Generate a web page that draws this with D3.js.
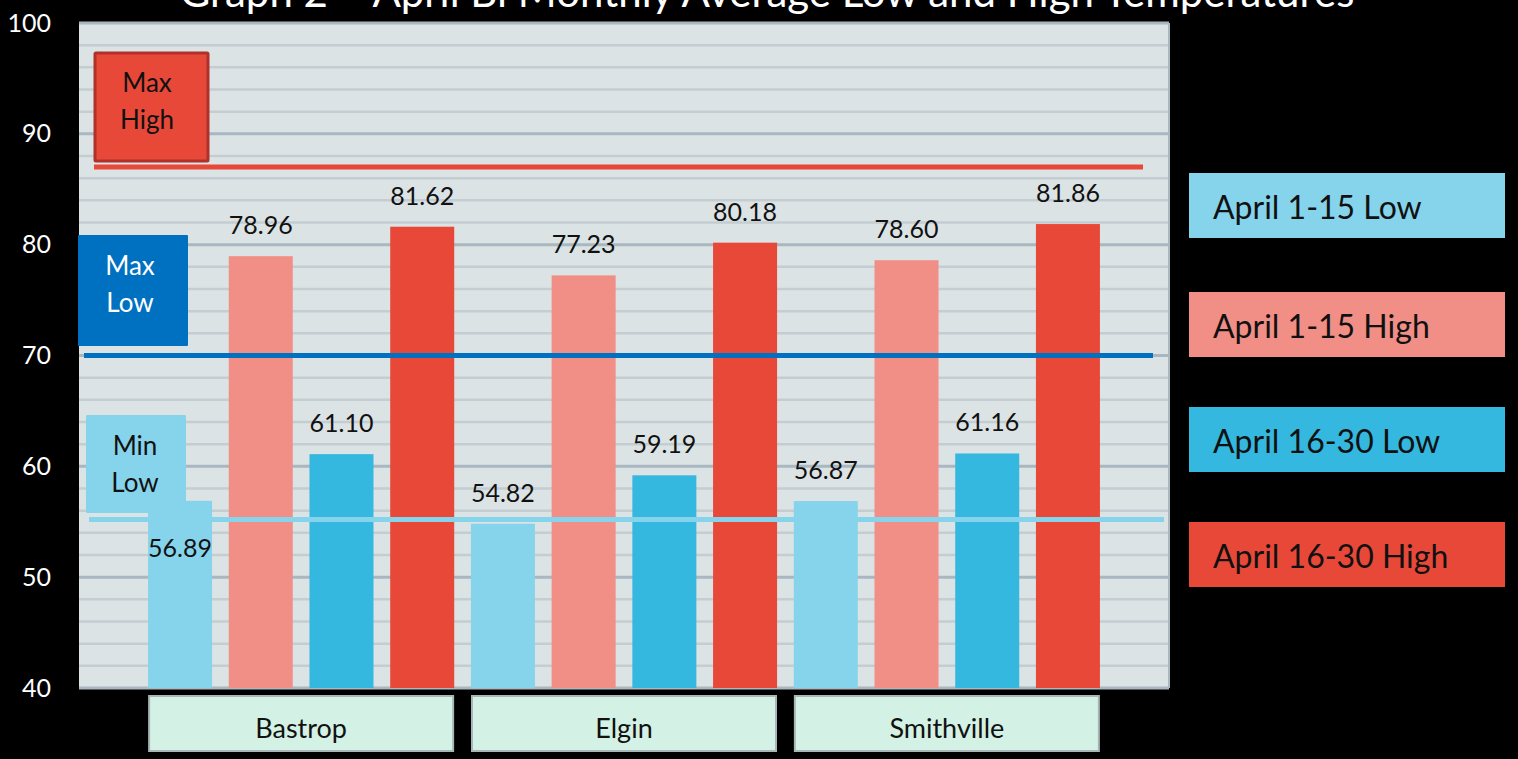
<!DOCTYPE html>
<html>
<head>
<meta charset="utf-8">
<script src="https://cdn.jsdelivr.net/npm/d3@7"></script>
<style>
  html, body { margin: 0; padding: 0; background: #000; }
  svg { display: block; font-family: Lato, "Open Sans", sans-serif; }
</style>
</head>
<body>
<div id="chart"></div>
<script>
// Chart data.
var cities = ["Bastrop", "Elgin", "Smithville"];
var seriesNames = ["April 1-15 Low", "April 1-15 High", "April 16-30 Low", "April 16-30 High"];
var seriesColors = ["#86d4ec", "#f18f86", "#34b8df", "#e84838"];
var lowEarly = [56.89, 54.82, 56.87];
var highEarly = [78.96, 77.23, 78.60];
var lowLate = [61.10, 59.19, 61.16];
var highLate = [81.62, 80.18, 81.86];
var yTicks = [40, 50, 60, 70, 80, 90, 100];

// Reference lines (Max High, Max Low, Min Low)
var refNames = ["Max High", "Max Low", "Min Low"];
var refValues = [87.0, 70.0, 55.2];
var refColors = ["#e84838", "#0070c0", "#86d4ec"];

var title = "Graph 2 \u2013 April Bi Monthly Average Low and High Temperatures";

// Build rows for drawing
var seriesValues = [lowEarly, highEarly, lowLate, highLate];
var rows = [];
cities.forEach(function(c, i) {
  seriesNames.forEach(function(s, j) {
    rows.push({city: c, series: s, value: seriesValues[j][i], si: j});
  });
});

const W = 1518, H = 759;
const plot = {left: 79, right: 1169, top: 23, bottom: 688};

var svg = d3.select('#chart')
            .append('svg')
            .attr('width', W)
            .attr('height', H);

svg.append('rect')
   .attr('width', W).attr('height', H)
   .attr('fill', '#000');

// Scales
var y = d3.scaleLinear()
          .domain([40, 100])
          .range([plot.bottom, plot.top]);

var x0 = d3.scaleBand()
           .domain(cities)
           .range([plot.left, plot.right])
           .paddingInner(0)
           .paddingOuter(0.188);

var x1 = d3.scaleBand()
           .domain(seriesNames)
           .range([0, x0.bandwidth()])
           .paddingInner(0.207)
           .paddingOuter(0.1035);

var color = d3.scaleOrdinal().domain(seriesNames).range(seriesColors);

// Plot background
svg.append('rect')
   .attr('x', plot.left).attr('y', plot.top)
   .attr('width', plot.right - plot.left)
   .attr('height', plot.bottom - plot.top)
   .attr('fill', '#dce3e5');

// Gridlines: minor every 2, major every 10
var grid = svg.append('g');
grid.selectAll('line')
    .data(y.ticks(30))
    .enter()
    .append('line')
    .attr('x1', plot.left)
    .attr('x2', plot.right)
    .attr('y1', function(d) { return y(d); })
    .attr('y2', function(d) { return y(d); })
    .attr('stroke', function(d) { return d % 10 === 0 ? '#a8b7c0' : '#c3cdd2'; })
    .attr('stroke-width', function(d) { return d % 10 === 0 ? 3 : 2.5; });

svg.append('line')
   .attr('x1', plot.right).attr('x2', plot.right)
   .attr('y1', plot.top).attr('y2', plot.bottom)
   .attr('stroke', '#a8b7c0').attr('stroke-width', 2);

// Y axis labels
var yAxis = d3.axisLeft(y).tickValues(yTicks).tickSize(0).tickPadding(0);
var gy = svg.append('g')
            .attr('transform', 'translate(51,0)')
            .call(yAxis);
gy.select('.domain').remove();
gy.selectAll('text')
  .attr('fill', '#fff')
  .attr('font-size', 25)
  .attr('font-family', 'Lato, sans-serif');

// Bars
var bars = svg.selectAll('.bar')
              .data(rows)
              .enter()
              .append('rect')
              .classed('bar', true)
              .attr('x', function(d) { return x0(d.city) + x1(d.series); })
              .attr('width', x1.bandwidth())
              .attr('y', function(d) { return y(d.value); })
              .attr('height', function(d) { return y(40) - y(d.value); })
              .attr('fill', function(d) { return color(d.series); });

// Value labels (the first one sits below the bar top, next to the Min Low box)
svg.selectAll('.label')
   .data(rows)
   .enter()
   .append('text')
   .classed('label', true)
   .attr('x', function(d) { return x0(d.city) + x1(d.series) + x1.bandwidth() / 2; })
   .attr('y', function(d, i) { return i === 0 ? y(d.value) + 56 : y(d.value) - 22; })
   .attr('text-anchor', 'middle')
   .attr('font-size', 25)
   .attr('fill', '#111')
   .text(function(d) { return d.value.toFixed(2); });

// Reference lines
var refExtent = [[94, 1143], [84, 1153], [89, 1164]];
svg.selectAll('.ref')
   .data(refValues)
   .enter()
   .append('line')
   .classed('ref', true)
   .attr('x1', function(d, i) { return refExtent[i][0]; })
   .attr('x2', function(d, i) { return refExtent[i][1]; })
   .attr('y1', function(d) { return y(d); })
   .attr('y2', function(d) { return y(d); })
   .attr('stroke', function(d, i) { return refColors[i]; })
   .attr('stroke-width', 5);

// Reference line tags
var tags = [
  {x: 95, y: 53, w: 113, h: 108, fill: '#e84838', stroke: '#b0302a', text: '#111', tx: 147, ty: [92, 129]},
  {x: 78, y: 235, w: 110, h: 111, fill: '#0070c0', stroke: 'none', text: '#fff', tx: 130, ty: [275, 312]},
  {x: 86, y: 415, w: 100, h: 98, fill: '#86d4ec', stroke: 'none', text: '#111', tx: 135, ty: [455, 492]}
];
tags.forEach(function(t, i) {
  svg.append('rect')
     .attr('x', t.x).attr('y', t.y)
     .attr('width', t.w).attr('height', t.h)
     .attr('fill', t.fill)
     .attr('stroke', t.stroke)
     .attr('stroke-width', 3)
     .attr('rx', 1);
  var words = refNames[i].split(' ');
  words.forEach(function(w, k) {
    svg.append('text')
       .attr('x', t.tx).attr('y', t.ty[k])
       .attr('text-anchor', 'middle')
       .attr('font-size', 26)
       .attr('fill', t.text)
       .text(w);
  });
});

// City label boxes
var cityBoxes = svg.selectAll('.city')
                   .data(cities)
                   .enter()
                   .append('g')
                   .classed('city', true);
cityBoxes.append('rect')
         .attr('x', function(d) { return x0(d) + x0.bandwidth() / 2 - 152; })
         .attr('y', 696)
         .attr('width', 304)
         .attr('height', 55)
         .attr('fill', '#d3f1e5')
         .attr('stroke', '#a9b6b8')
         .attr('stroke-width', 2);
cityBoxes.append('text')
         .attr('x', function(d) { return x0(d) + x0.bandwidth() / 2; })
         .attr('y', 738)
         .attr('text-anchor', 'middle')
         .attr('font-size', 27)
         .attr('fill', '#111')
         .text(function(d) { return d; });

// Legend
var legendY = [173, 292, 407, 522];
var legend = svg.selectAll('.legend')
                .data(seriesNames)
                .enter()
                .append('g')
                .classed('legend', true)
                .attr('transform', function(d, i) { return 'translate(1189,' + legendY[i] + ')'; });
legend.append('rect')
      .attr('width', 316)
      .attr('height', 65)
      .attr('fill', function(d) { return color(d); });
legend.append('text')
      .attr('x', 24)
      .attr('y', 46)
      .attr('font-size', 32)
      .attr('fill', '#111')
      .text(function(d) { return d; });

// Title (clipped by the top edge, as in the original)
svg.append('text')
   .attr('x', 767)
   .attr('y', 7)
   .attr('text-anchor', 'middle')
   .attr('font-size', 42)
   .attr('fill', '#fff')
   .text(title);
</script>
</body>
</html>
